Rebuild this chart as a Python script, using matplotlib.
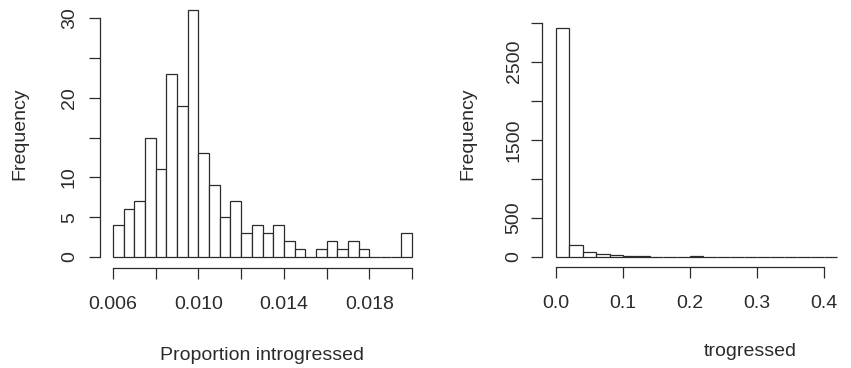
import matplotlib
matplotlib.use("Agg")
import matplotlib.pyplot as plt
import numpy as np

plt.rcParams['font.family'] = ['Liberation Sans', 'DejaVu Sans']

# ---- data ----
left_breaks_start = 0.006
left_bin_width = 0.0005
left_counts = [4, 6, 7, 15, 11, 23, 19, 31, 13, 9, 5, 7, 3, 4, 3, 4, 2, 1, 0,
               1, 2, 1, 2, 1, 0, 0, 0, 3]
left_xticks = [0.006, 0.008, 0.010, 0.012, 0.014, 0.016, 0.018, 0.020]
left_xticklabels = ["0.006", "", "0.010", "", "0.014", "", "0.018", ""]
left_yticks = [0, 5, 10, 15, 20, 25, 30]
left_yticklabels = ["0", "5", "10", "", "20", "", "30"]

right_breaks_start = 0.0
right_bin_width = 0.02
right_counts = [2930, 150, 58, 33, 21, 10, 10, 5, 4, 3, 8, 3, 2, 2, 2, 1, 1, 1,
                1, 1, 3]
right_xticks = [0.0, 0.1, 0.2, 0.3, 0.4]
right_xticklabels = ["0.0", "0.1", "0.2", "0.3", "0.4"]
right_yticks = [0, 500, 1000, 1500, 2000, 2500, 3000]
right_yticklabels = ["0", "500", "", "1500", "", "2500", ""]

left_xlabel = "Proportion introgressed"
right_xlabel = "trogressed"
ylabel = "Frequency"

W, H = 851, 368
fig = plt.figure(figsize=(W / 100, H / 100), dpi=100)
col = '#2b2b2b'
fs = 14


def px_axes(x0, x1, ybot, ytop):
    return fig.add_axes([x0 / W, 1 - ybot / H, (x1 - x0) / W, (ybot - ytop) / H])


def style(ax, xticks, xlabels, yticks, ylabels, xbounds, ybounds, left_out, bottom_out, ypad):
    for s in ['top', 'right']:
        ax.spines[s].set_visible(False)
    ax.spines['left'].set_position(('outward', left_out * 0.72))
    ax.spines['bottom'].set_position(('outward', bottom_out * 0.72))
    ax.spines['left'].set_bounds(*ybounds)
    ax.spines['bottom'].set_bounds(*xbounds)
    for s in ['left', 'bottom']:
        ax.spines[s].set_color(col)
        ax.spines[s].set_linewidth(0.9)
    ax.set_xticks(xticks)
    ax.set_xticklabels(xlabels)
    ax.set_yticks(yticks)
    ax.set_yticklabels(ylabels, rotation=90, va='center')
    ax.tick_params(axis='both', colors=col, labelcolor=col, labelsize=fs,
                   length=8, width=0.9)
    ax.tick_params(axis='x', pad=12)
    ax.tick_params(axis='y', pad=ypad)
    ax.patch.set_alpha(0)


# left histogram
axL = px_axes(113, 412, 257, 257 - 31 * (239 / 30))
edgesL = left_breaks_start + left_bin_width * np.arange(len(left_counts))
axL.bar(edgesL, left_counts, width=left_bin_width, align='edge',
        facecolor='white', edgecolor=col, linewidth=0.9, clip_on=False)
axL.set_xlim(left_breaks_start, left_breaks_start + left_bin_width * len(left_counts))
axL.set_ylim(0, max(left_counts))
style(axL, left_xticks, left_xticklabels, left_yticks, left_yticklabels,
      (left_xticks[0], left_xticks[-1]), (left_yticks[0], left_yticks[-1]), 13, 11, 8)
fig.text(262 / W, 1 - 355 / H, left_xlabel, ha='center', va='center', fontsize=fs, color=col)
fig.text(20 / W, 1 - 134 / H, ylabel, ha='center', va='center', rotation=90,
         fontsize=fs, color=col)

# right histogram
axR = px_axes(556, 556 + 0.42 * 670, 257, 257 - 2930 * 0.08)
edgesR = right_breaks_start + right_bin_width * np.arange(len(right_counts))
axR.bar(edgesR, right_counts, width=right_bin_width, align='edge',
        facecolor='white', edgecolor=col, linewidth=0.9, clip_on=False)
axR.set_xlim(right_breaks_start, right_breaks_start + right_bin_width * len(right_counts))
axR.set_ylim(0, max(right_counts))
style(axR, right_xticks, right_xticklabels, right_yticks, right_yticklabels,
      (right_xticks[0], right_xticks[-1]), (right_yticks[0], right_yticks[-1]), 14, 10, 6)
fig.text(750 / W, 1 - 351 / H, right_xlabel, ha='center', va='center', fontsize=fs, color=col)
fig.text(468 / W, 1 - 134 / H, ylabel, ha='center', va='center', rotation=90,
         fontsize=fs, color=col)

fig.savefig("out.png", dpi=100, facecolor='white')
